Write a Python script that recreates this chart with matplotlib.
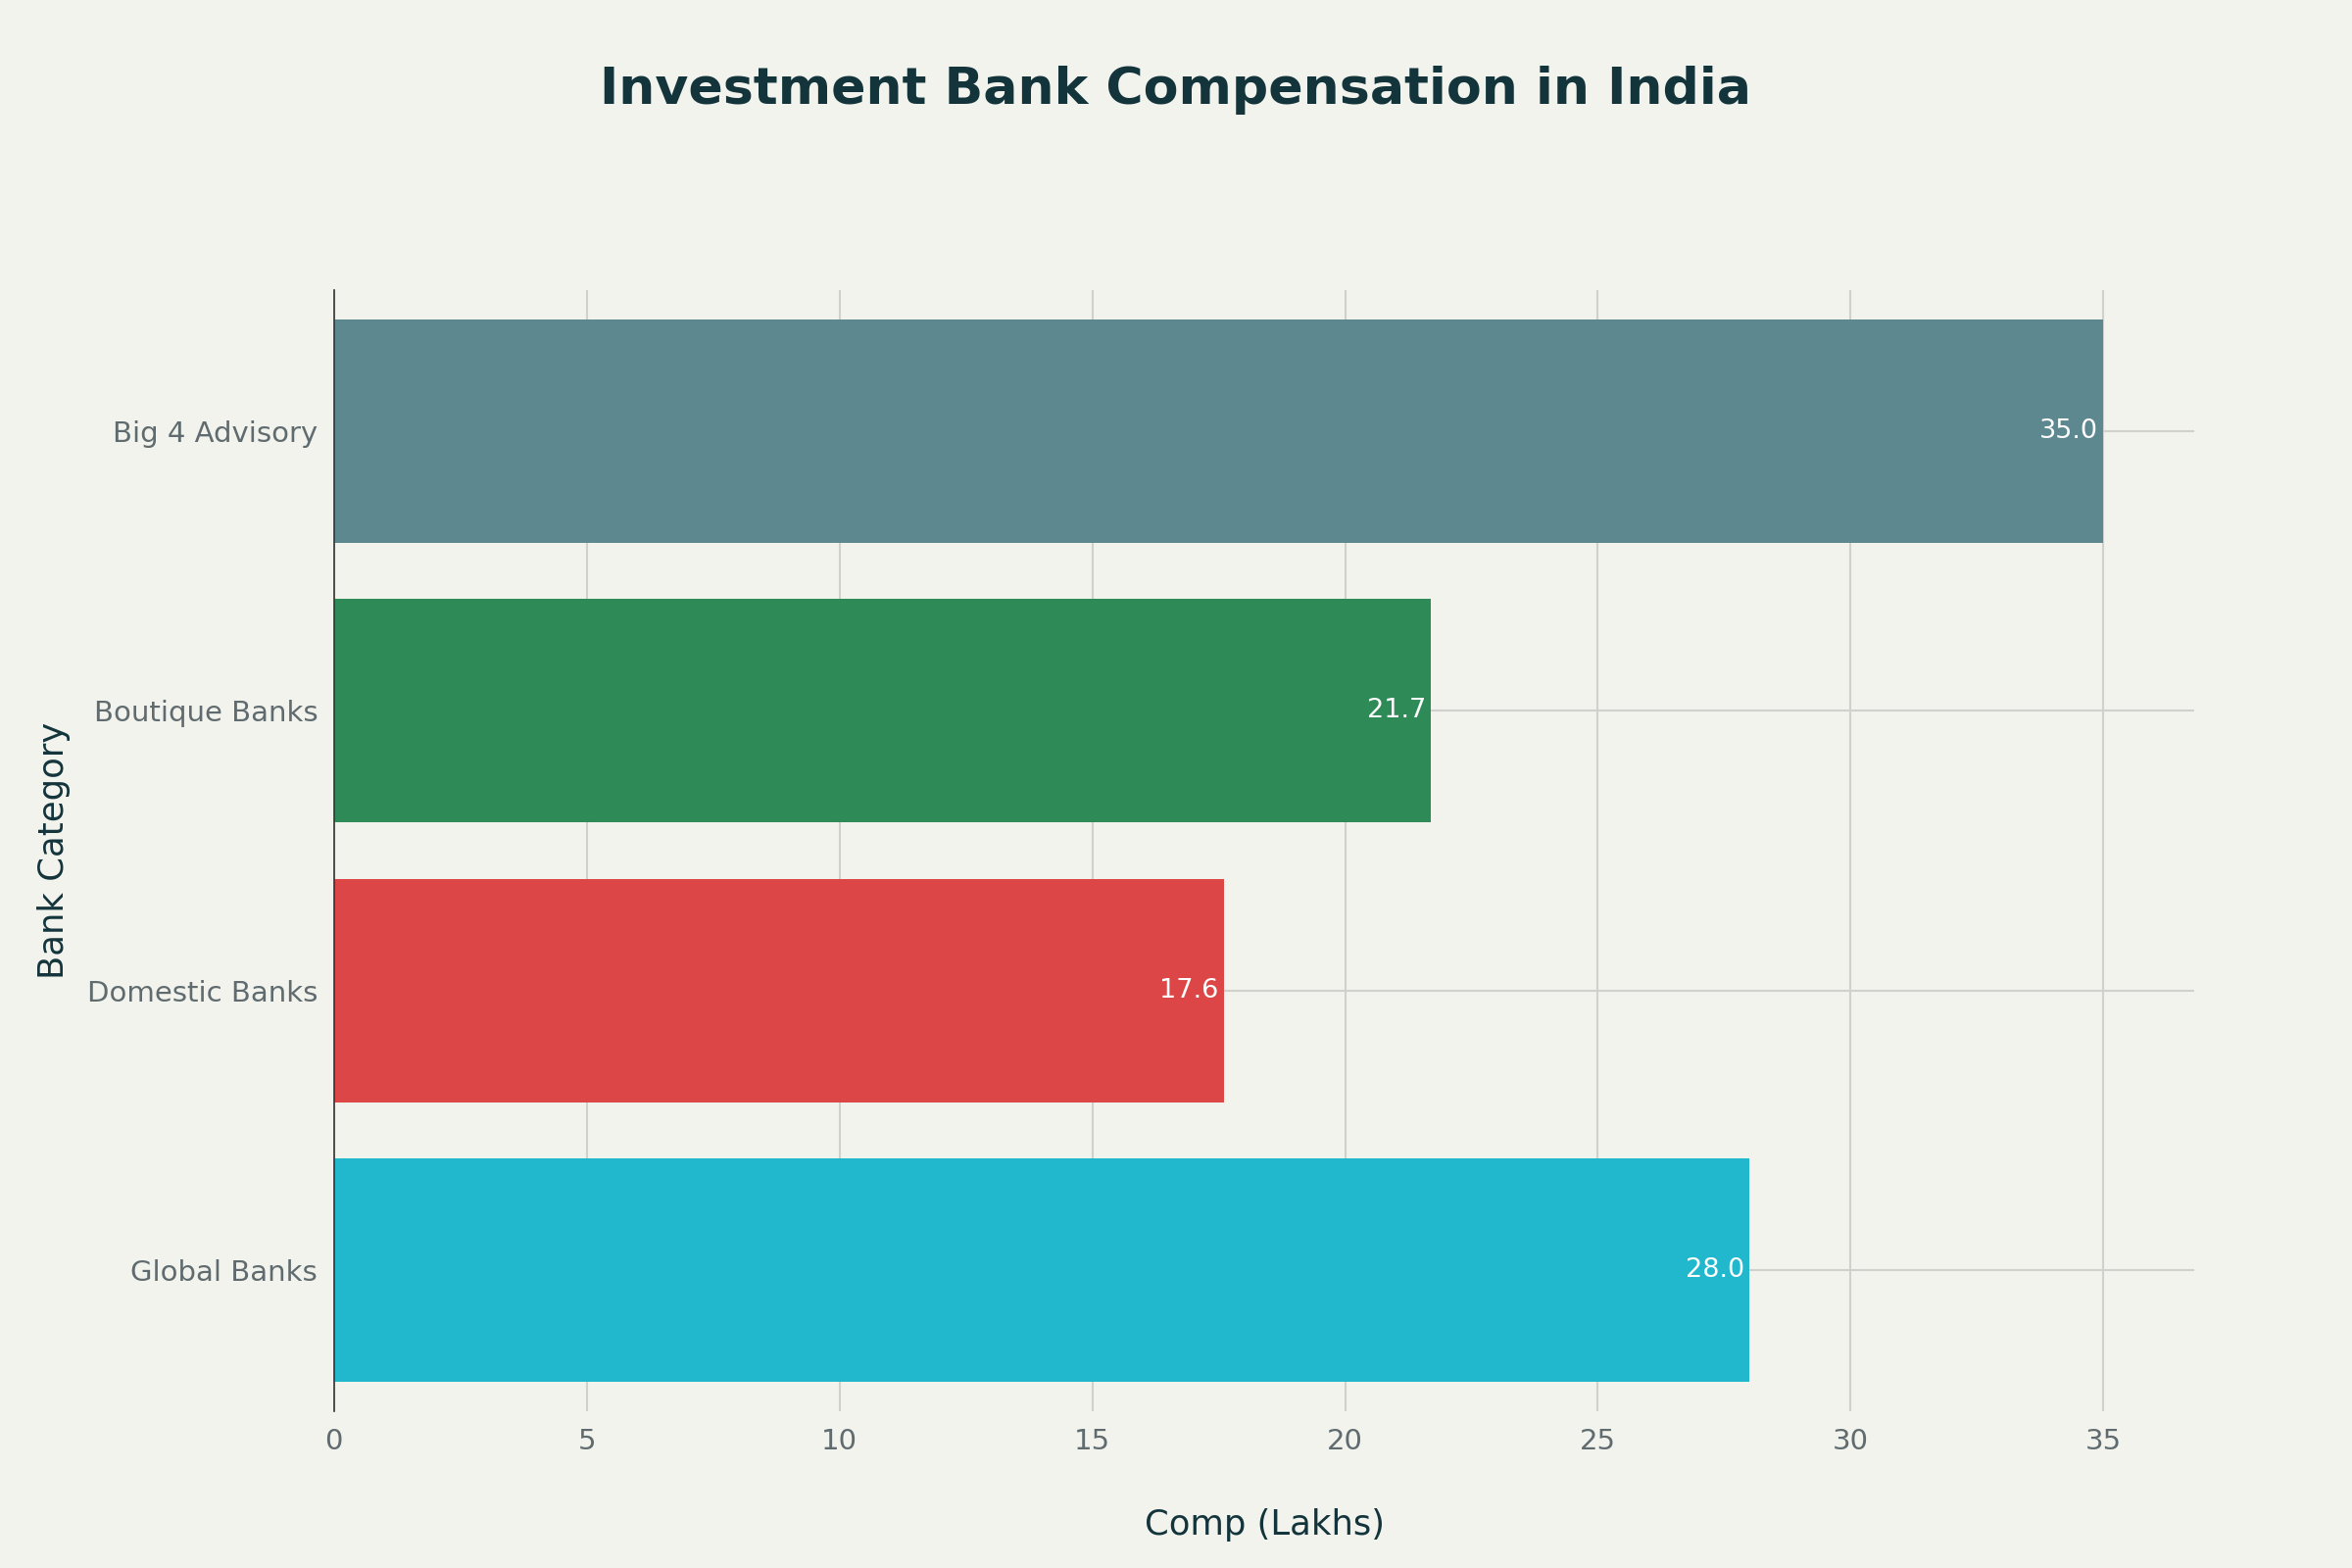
import matplotlib.pyplot as plt

categories = ["Global Banks", "Domestic Banks", "Boutique Banks", "Big 4 Advisory"]
comp = [28.0, 17.6, 21.7, 35.0]
colors = ["#21B7CC", "#DD4647", "#2E8B57", "#5E8890"]

bg = "#F3F3EE"
dark = "#13343B"

fig = plt.figure(figsize=(16, 10.667), dpi=150, facecolor=bg)
ax = fig.add_axes([0.142, 0.100, 0.791, 0.715], facecolor=bg)

bars = ax.barh(categories, comp, height=0.8, color=colors, zorder=2)
for b, v in zip(bars, comp):
    ax.text(v - 0.1, b.get_y() + b.get_height() / 2, f"{v:.1f}", ha="right", va="center",
            color="white", fontsize=13, zorder=3)

ax.set_xlim(0, 36.8)
ax.set_ylim(-0.505, 3.505)
ax.set_xticks(range(0, 36, 5))
ax.grid(True, color="#D0D0CC", linewidth=1, zorder=0)
for s in ["top", "right", "bottom"]:
    ax.spines[s].set_visible(False)
ax.spines["left"].set_color("#333333")
ax.tick_params(length=0, labelsize=14, labelcolor="#5F6B6E", pad=8)

ax.set_xlabel("Comp (Lakhs)", fontsize=17, color=dark, labelpad=26)
ax.set_ylabel("Bank Category", fontsize=17, color=dark, labelpad=8)
fig.suptitle("Investment Bank Compensation in India", fontsize=25, fontweight="bold",
             color=dark, y=0.958)

fig.savefig("out.png", facecolor=bg)
